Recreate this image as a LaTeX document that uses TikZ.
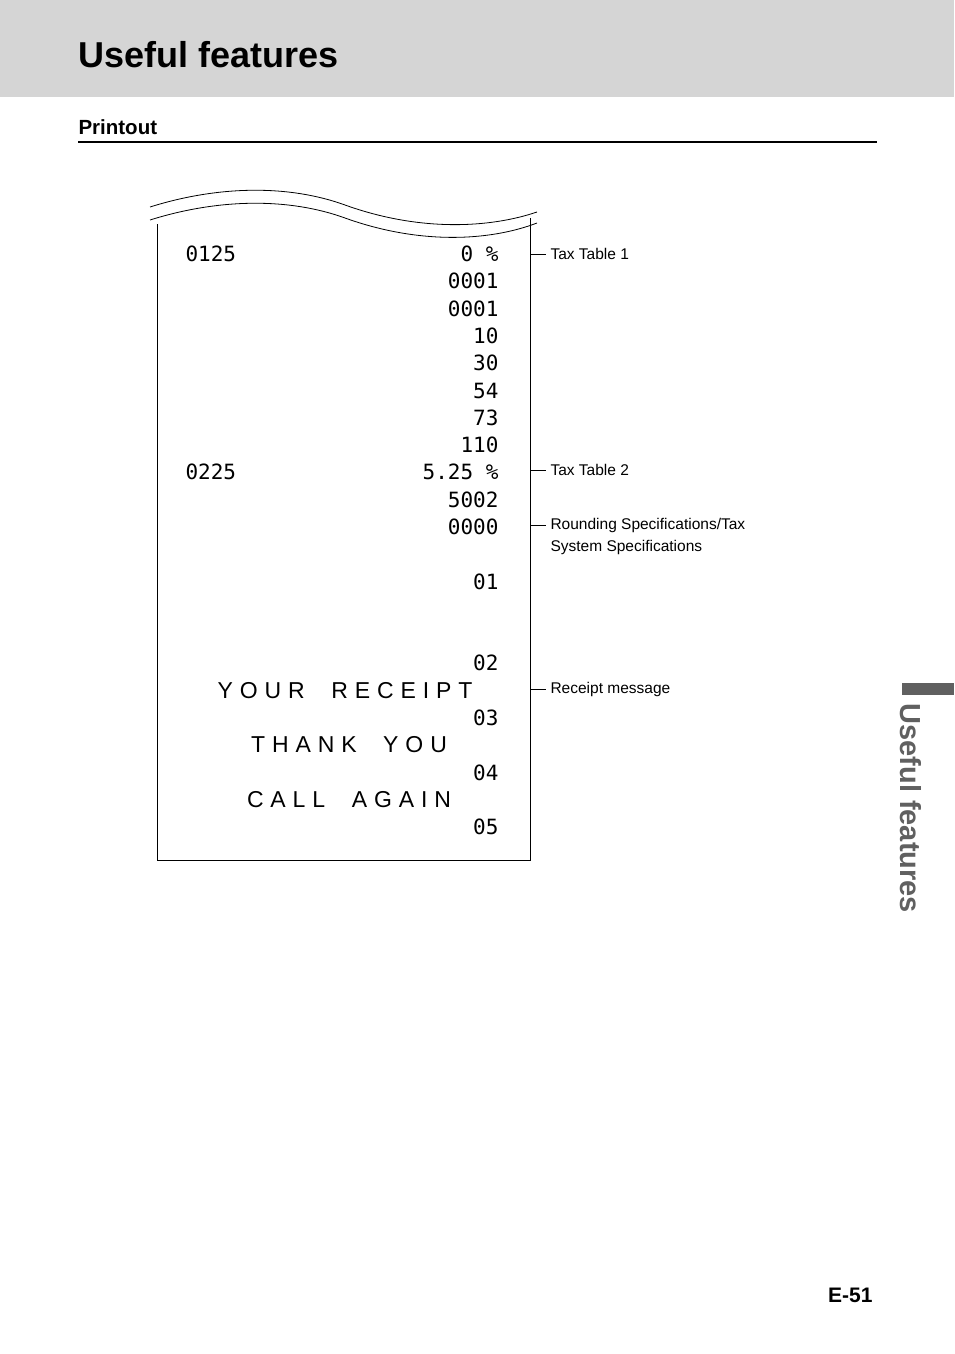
\documentclass[tikz,border=0pt]{standalone}
\usepackage{fontspec}
\setmainfont{Liberation Sans}
\newfontfamily\rcpt{DejaVu Sans Mono}
\newfontfamily\widefont[LetterSpace=30]{Liberation Sans}
\begin{document}
\begin{tikzpicture}[x=1pt,y=-1pt]
  \tikzset{
    rline/.style={anchor=base east,font=\rcpt\fontsize{21}{21}\selectfont},
    lline/.style={anchor=base west,font=\rcpt\fontsize{21}{21}\selectfont},
    wide/.style={anchor=base,font=\widefont\fontsize{23}{23}\selectfont},
    note/.style={anchor=west,align=left,font=\fontsize{15.5}{22}\selectfont}
  }
  \useasboundingbox (0,0) rectangle (954,1354);
  % Header
  \fill[gray!33] (0,0) rectangle (954,97);
  \node[anchor=base west,font=\bfseries\fontsize{36}{36}\selectfont] (title) at (75,67) {Useful features};
  \node[anchor=base west,font=\bfseries\fontsize{20.5}{20}\selectfont] (sub) at (75,134) {Printout};
  \draw[line width=2.5pt] (78,142) -- (877,142);
  % Receipt paper
  \draw[line width=0.8pt] (157,224) -- (157,860) -- (530,860) -- (530,218);
  \draw[line width=0.8pt] (150,207) .. controls (220,185) and (290,185) .. (345,205)
    .. controls (420,232) and (490,228) .. (537,212);
  \draw[line width=0.8pt] (150,220) .. controls (220,198) and (290,198) .. (345,218)
    .. controls (420,245) and (490,241) .. (537,223);
  % Receipt lines
  \node[lline] (n1) at (182,261) {0125};
  \node[rline] (p1) at (502,261) {0 \%};
  \foreach \t/\y in {0001/288,0001/316,10/343,30/370,54/398,73/425,110/452}
    \node[rline] at (502,\y) {\t};
  \node[lline] (n2) at (182,479) {0225};
  \node[rline] (p2) at (502,479) {5.25 \%};
  \node[rline] (r1) at (502,507) {5002};
  \node[rline] (r2) at (502,534) {0000};
  \foreach \t/\y in {01/589,02/670,03/725,04/780,05/834}
    \node[rline] at (502,\y) {\t};
  \node[wide] (msg1) at (345,698) {YOUR\ \ RECEIPT};
  \node[wide] (msg2) at (349,752) {THANK\ \ YOU};
  \node[wide] (msg3) at (349,807) {CALL\ \ AGAIN};
  % Notes
  \foreach \y/\t in {254/{Tax Table 1},470/{Tax Table 2},536/{Rounding Specifications/Tax\\System Specifications},689/{Receipt message}}
    \node[note] at (547,\y) {\t};
  \foreach \y in {254,470,525,689}
    \draw[line width=0.6pt] (530,\y) -- (546,\y);
  % Side tab
  \fill[gray!75!black] (902,683) rectangle (954,695);
  \node[anchor=base west,rotate=-90,text=gray!75!black,font=\bfseries\fontsize{29}{29}\selectfont] (side) at (900,700) {Useful features};
  % Page number
  \node[anchor=base east,font=\bfseries\fontsize{21}{21}\selectfont] (page) at (876,1302) {E-51};
\end{tikzpicture}
\end{document}
